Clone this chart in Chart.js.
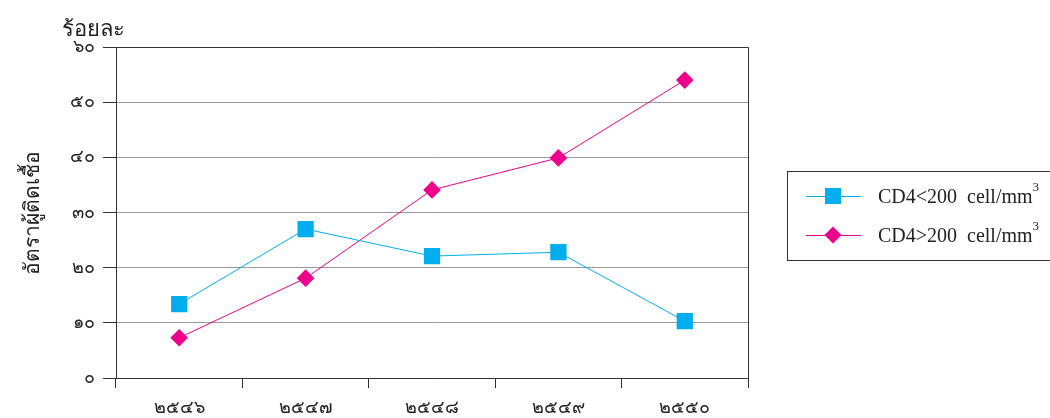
<!DOCTYPE html>
<html lang="th">
<head>
  <meta charset="UTF-8" />
  <title>อัตราผู้ติดเชื้อ</title>
  <script src="https://cdn.jsdelivr.net/npm/chart.js"></script>
  <style>
    html, body { margin: 0; padding: 0; background: #fff; overflow: hidden; }
    #wrap { position: relative; width: 1050px; height: 418px; }
    #legend {
      position: absolute; left: 787px; top: 171px; width: 280px; height: 88px;
      border: 1px solid #333; font-family: "Liberation Serif", serif; font-size: 20px; color: #222;
    }
    .row { position: absolute; left: 0; height: 20px; }
    .ln { position: absolute; left: 18px; width: 55px; height: 1px; top: 10px; }
    .mk { position: absolute; }
    .txt { position: absolute; left: 90px; top: -3px; white-space: nowrap; }
    .txt sup { font-size: 13px; position: relative; top: -4px; }
  </style>
</head>
<body>
  <div id="wrap">
    <canvas id="chart" width="1050" height="418"></canvas>
    <div id="legend"></div>
  </div>

  <script>
    const years = ['๒๕๔๖', '๒๕๔๗', '๒๕๔๘', '๒๕๔๙', '๒๕๕๐'];
    const seriesNames = ['CD4<200 cell/mm', 'CD4>200 cell/mm'];
    const below200 = [13.4, 27.0, 22.1, 22.8, 10.3];
    const above200 = [7.3, 18.1, 34.1, 39.9, 54.0];
    const yTicks = [0, 10, 20, 30, 40, 50, 60];

    const thaiDigits = '๐๑๒๓๔๕๖๗๘๙';
    const toThai = n => String(n).replace(/\d/g, d => thaiDigits[d]);

    const cyan = '#00aeef';
    const magenta = '#ec008c';
    const thaiFont = '"Noto Sans", "DejaVu Sans", sans-serif';

    const framePlugin = {
      id: 'frame',
      afterDraw(chart) {
        const { ctx, chartArea: a } = chart;
        ctx.save();
        ctx.strokeStyle = '#333';
        ctx.lineWidth = 1;
        ctx.beginPath();
        ctx.moveTo(a.left, a.top + 0.5);
        ctx.lineTo(a.right + 0.5, a.top + 0.5);
        ctx.lineTo(a.right + 0.5, a.bottom);
        ctx.stroke();
        ctx.fillStyle = '#222';
        ctx.font = '22px ' + thaiFont;
        ctx.textBaseline = 'alphabetic';
        ctx.fillText('ร้อยละ', 62, 36);
        ctx.restore();
      }
    };

    new Chart(document.getElementById('chart'), {
      type: 'line',
      data: {
        labels: years,
        datasets: [
          {
            label: seriesNames[0],
            data: below200,
            borderColor: cyan,
            backgroundColor: cyan,
            borderWidth: 1,
            pointStyle: 'rect',
            pointRadius: 11.5,
            pointBorderWidth: 0,
            tension: 0
          },
          {
            label: seriesNames[1],
            data: above200,
            borderColor: magenta,
            backgroundColor: magenta,
            borderWidth: 1,
            pointStyle: 'rectRot',
            pointRadius: 8.8,
            pointBorderWidth: 0,
            tension: 0
          }
        ]
      },
      options: {
        responsive: false,
        animation: false,
        layout: { padding: { left: 0, right: 302, top: 47, bottom: 0 } },
        plugins: { legend: { display: false }, tooltip: { enabled: false } },
        scales: {
          x: {
            offset: true,
            afterFit: s => { s.height = 40; },
            grid: { offset: true, drawOnChartArea: false, tickLength: 10, tickColor: '#333' },
            border: { color: '#333', width: 1 },
            ticks: { color: '#222', font: { family: thaiFont, size: 18 }, padding: 9 }
          },
          y: {
            min: 0,
            max: 60,
            afterFit: s => { s.width = 116; },
            afterBuildTicks: s => { s.ticks = yTicks.map(v => ({ value: v })); },
            grid: { color: '#9a9a9a', lineWidth: 1, tickLength: 13, tickColor: '#333' },
            border: { color: '#333', width: 1 },
            ticks: {
              color: '#222',
              font: { family: thaiFont, size: 18 },
              padding: 8,
              callback: v => toThai(v)
            },
            title: {
              display: true,
              text: 'อัตราผู้ติดเชื้อ',
              color: '#222',
              font: { family: thaiFont, size: 21 },
              padding: { top: 20, bottom: 0 }
            }
          }
        }
      },
      plugins: [framePlugin]
    });

    // legend in a box on the right
    const legend = document.getElementById('legend');
    const colors = [cyan, magenta];
    const tops = [14, 53];
    seriesNames.forEach((name, i) => {
      const row = document.createElement('div');
      row.className = 'row';
      row.style.top = tops[i] + 'px';
      row.style.width = '280px';
      const marker = i === 0
        ? `<div class="mk" style="left:37px;top:2px;width:16px;height:16px;background:${colors[i]}"></div>`
        : `<div class="mk" style="left:39px;top:4px;width:12px;height:12px;background:${colors[i]};transform:rotate(45deg)"></div>`;
      row.innerHTML = `<div class="ln" style="background:${colors[i]}"></div>${marker}` +
        `<span class="txt">${name.replace('<', '&lt;').replace('>', '&gt;').replace('cell/', '&nbsp;cell/')}<sup>3</sup></span>`;
      legend.appendChild(row);
    });
  </script>
</body>
</html>
